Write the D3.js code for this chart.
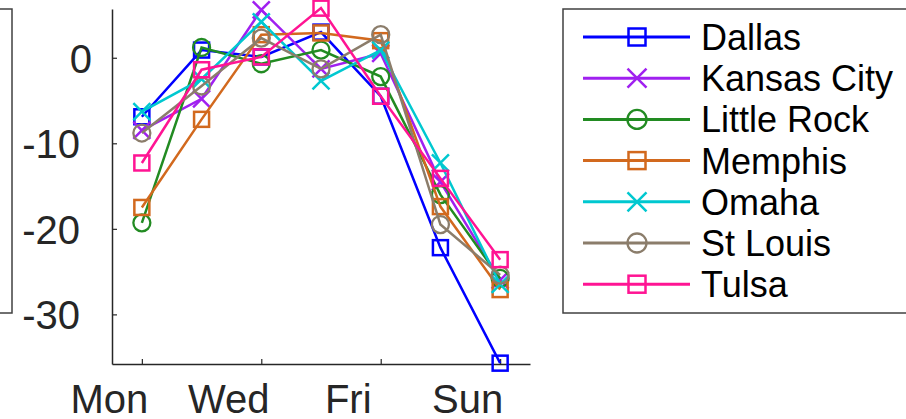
<!DOCTYPE html>
<html>
<head>
<meta charset="utf-8">
<script src="https://cdn.jsdelivr.net/npm/d3@7"></script>
<style>
  body { margin: 0; background: #fff; }
  svg { display: block; font-family: "Liberation Sans", Arial, sans-serif; }
</style>
</head>
<body>
<svg id="chart" width="906" height="419"></svg>
<script>
var days = ["Mon", "Tue", "Wed", "Thu", "Fri", "Sat", "Sun"];
var tickDays = ["Mon", "Wed", "Fri", "Sun"];
var yTicks = [0, -10, -20, -30];

var cities = ["Dallas", "Kansas City", "Little Rock", "Memphis", "Omaha", "St Louis", "Tulsa"];
var colors = ["#0000ff", "#a020f0", "#228b22", "#d2691e", "#00c8d0", "#8b7d6b", "#ff1493"];
var markers = ["square", "x", "circle", "square", "x", "circle", "square"];

var dallas = [-6.9, 0.9, 0.1, 3.0, -4.5, -22.2, -35.7];
var kansasCity = [-8.5, -4.8, 5.6, -1.3, 0.5, -14.5, -26.0];
var littleRock = [-19.3, 1.2, -0.7, 0.9, -2.2, -16.0, -25.8];
var memphis = [-17.5, -7.2, 2.7, 2.9, 2.0, -17.4, -27.1];
var omaha = [-6.3, -2.5, 4.2, -2.7, 0.9, -12.3, -26.5];
var stLouis = [-8.8, -3.3, 2.3, -1.3, 2.7, -19.5, -25.4];
var tulsa = [-12.3, -1.4, 0.1, 5.8, -4.5, -14.1, -23.6];

var series = [dallas, kansasCity, littleRock, memphis, omaha, stLouis, tulsa];

var svg = d3.select("#chart");
var axisColor = "#262626";

var x = d3.scaleLinear().domain([0.5, 7.5]).range([112, 530]);
var y = d3.scaleLinear().domain([-35.8, 5.7]).range([364, 9]);

// box of the neighbouring panel, cut off at the left edge
svg.append("rect")
  .attr("x", -20).attr("y", 9)
  .attr("width", 32).attr("height", 304)
  .attr("fill", "none").attr("stroke", "#404040").attr("stroke-width", 1.5);

// axes, MATLAB style with inward ticks
var xAxis = d3.axisBottom(x)
  .tickValues(tickDays.map(function(d) { return days.indexOf(d) + 1; }))
  .tickFormat(function(d) { return days[d - 1]; })
  .tickSizeInner(-5).tickSizeOuter(0);

var gx = svg.append("g").attr("transform", "translate(0,364)").call(xAxis);
gx.select(".domain").attr("stroke", axisColor).attr("stroke-width", 1.5);
gx.selectAll(".tick line").attr("stroke", axisColor).attr("stroke-width", 1.2);
gx.selectAll(".tick text")
  .attr("y", 49).attr("dy", 0).attr("dx", -33)
  .attr("fill", axisColor)
  .style("font-size", "40px");

// plain hyphen for negatives, like the original
var yAxis = d3.axisLeft(y)
  .tickValues(yTicks)
  .tickFormat(function(d) { return String(d); })
  .tickSizeInner(-5).tickSizeOuter(0);

var gy = svg.append("g").attr("transform", "translate(112,0)").call(yAxis);
gy.select(".domain").attr("stroke", axisColor).attr("stroke-width", 1.5);
gy.selectAll(".tick line").attr("stroke", axisColor).attr("stroke-width", 1.2);
gy.selectAll(".tick text")
  .attr("x", function(d) { return d < 0 ? -32 : -20; })
  .attr("dy", "0.36em")
  .attr("fill", axisColor)
  .style("font-size", "40px");

function drawMarker(g, type, color, size) {
  if (type == "square") {
    g.append("rect")
      .attr("x", -size).attr("y", -size)
      .attr("width", size * 2).attr("height", size * 2)
      .attr("fill", "none").attr("stroke", color).attr("stroke-width", 2.5);
  } else if (type == "circle") {
    g.append("circle")
      .attr("r", size + 1)
      .attr("fill", "none").attr("stroke", color).attr("stroke-width", 2.3);
  } else {
    var s = size + 1;
    g.append("path")
      .attr("d", "M" + (-s) + "," + (-s) + "L" + s + "," + s + "M" + (-s) + "," + s + "L" + s + "," + (-s))
      .attr("fill", "none").attr("stroke", color).attr("stroke-width", 2.5);
  }
}

var line = d3.line()
  .x(function(d, i) { return x(i + 1); })
  .y(function(d) { return y(d); });

series.forEach(function(values, k) {
  var g = svg.append("g").attr("class", "series");
  g.append("path")
    .datum(values)
    .attr("d", line)
    .attr("fill", "none")
    .attr("stroke", colors[k])
    .attr("stroke-width", 2.5);

  g.selectAll("g.marker")
    .data(values)
    .enter().append("g")
    .attr("class", "marker")
    .attr("transform", function(d, i) { return "translate(" + x(i + 1) + "," + y(d) + ")"; })
    .each(function() { drawMarker(d3.select(this), markers[k], colors[k], 7.5); });
});

// legend, its right side runs past the picture
var legend = svg.append("g");
legend.append("rect")
  .attr("x", 563).attr("y", 9)
  .attr("width", 380).attr("height", 304)
  .attr("fill", "#fff").attr("stroke", "#404040").attr("stroke-width", 1.5);

var rows = legend.selectAll("g.row")
  .data(cities)
  .enter().append("g")
  .attr("class", "row")
  .attr("transform", function(d, i) { return "translate(0," + (37 + i * 41.2) + ")"; });

rows.append("line")
  .attr("x1", 583).attr("x2", 690)
  .attr("stroke", function(d, i) { return colors[i]; })
  .attr("stroke-width", 3);

rows.append("g")
  .attr("transform", "translate(637,0)")
  .each(function(d, i) { drawMarker(d3.select(this), markers[i], colors[i], 8.5); });

rows.append("text")
  .attr("x", 701).attr("y", 13)
  .attr("fill", "#000")
  .style("font-size", "36px")
  .text(function(d) { return d; });
</script>
</body>
</html>
